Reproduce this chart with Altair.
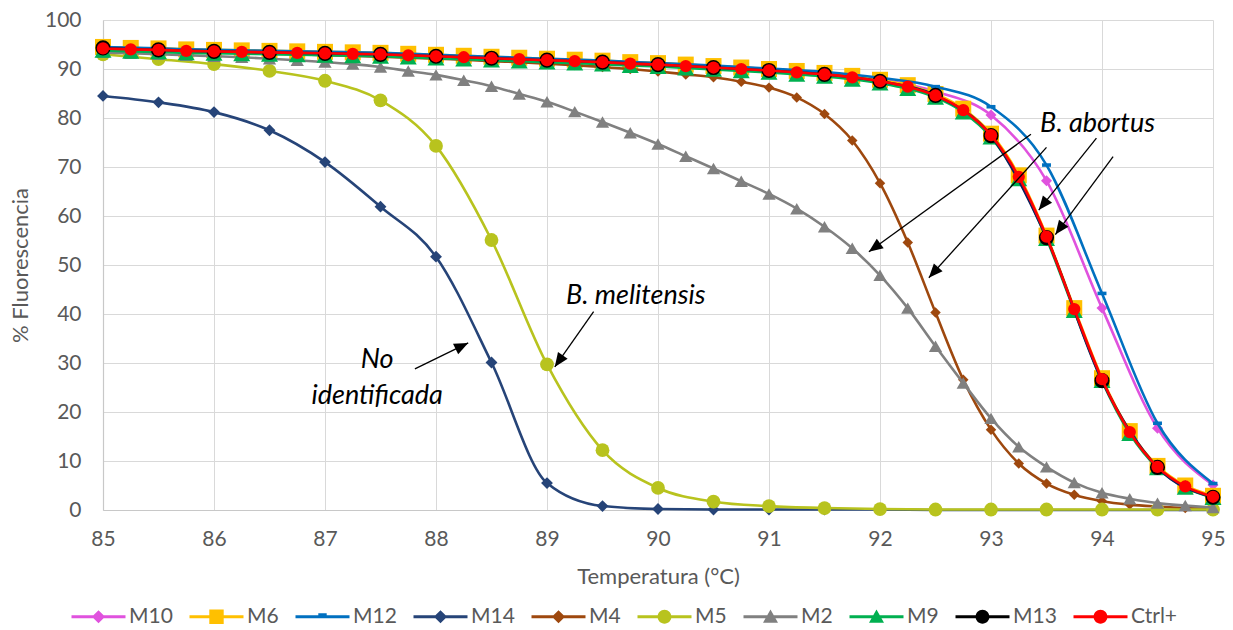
import math

import altair as alt
import pandas as pd

# Temperature grids (°C): some samples were read every 0.25 °C, others every 0.5 °C
T_QUARTER = [85.0, 85.25, 85.5, 85.75, 86.0, 86.25, 86.5, 86.75, 87.0, 87.25, 87.5,
             87.75, 88.0, 88.25, 88.5, 88.75, 89.0, 89.25, 89.5, 89.75, 90.0, 90.25,
             90.5, 90.75, 91.0, 91.25, 91.5, 91.75, 92.0, 92.25, 92.5, 92.75, 93.0,
             93.25, 93.5, 93.75, 94.0, 94.25, 94.5, 94.75, 95.0]
T_HALF = [85.0, 85.5, 86.0, 86.5, 87.0, 87.5, 88.0, 88.5, 89.0, 89.5, 90.0,
          90.5, 91.0, 91.5, 92.0, 92.5, 93.0, 93.5, 94.0, 94.5, 95.0]

# % fluorescence per sample
M10 = [94.4, 94.1, 93.8, 93.6, 93.4, 93.2, 92.8, 92.4, 92.0, 91.6, 91.1,
       90.6, 90.0, 89.2, 87.9, 85.4, 80.6, 67.2, 41.2, 16.7, 5.1]
M6 = [94.5, 94.3, 94.2, 94.0, 93.9, 93.8, 93.7, 93.6, 93.5, 93.4, 93.3,
      93.1, 92.9, 92.7, 92.5, 92.3, 92.1, 91.9, 91.7, 91.4, 91.2, 90.9,
      90.6, 90.3, 90.0, 89.6, 89.2, 88.6, 87.8, 86.7, 84.9, 81.9, 76.8,
      68.3, 56.0, 41.2, 26.9, 16.1, 9.0, 5.0, 2.9]
M12 = [94.5, 94.2, 93.9, 93.7, 93.5, 93.3, 92.9, 92.5, 92.1, 91.7, 91.2,
       90.7, 90.1, 89.4, 88.2, 86.4, 82.3, 70.4, 44.2, 17.7, 5.4]
M14 = [84.5, 83.2, 81.2, 77.5, 71.0, 61.9, 51.7, 30.1, 5.5, 0.8, 0.2,
       0.1, 0.1, 0.1, 0.1, 0.0, 0.0, 0.0, 0.0, 0.0, 0.0]
M4 = [94.0, 93.8, 93.7, 93.5, 93.4, 93.3, 93.1, 93.0, 92.8, 92.7, 92.5,
      92.3, 92.1, 91.9, 91.6, 91.4, 91.1, 90.8, 90.4, 90.0, 89.5, 88.9,
      88.3, 87.4, 86.2, 84.2, 80.8, 75.4, 66.7, 54.6, 40.3, 26.6, 16.4,
      9.5, 5.4, 3.1, 1.8, 1.1, 0.7, 0.4, 0.3]
M5 = [93.0, 92.0, 91.0, 89.6, 87.6, 83.6, 74.3, 55.1, 29.7, 12.2, 4.5,
      1.7, 0.8, 0.4, 0.2, 0.1, 0.1, 0.1, 0.1, 0.1, 0.1]
M2 = [93.4, 93.2, 93.0, 92.8, 92.6, 92.4, 92.1, 91.8, 91.4, 91.0, 90.4,
      89.6, 88.8, 87.7, 86.5, 84.9, 83.3, 81.3, 79.2, 77.0, 74.7, 72.2,
      69.7, 67.1, 64.5, 61.5, 57.8, 53.4, 47.9, 41.2, 33.4, 25.9, 18.7,
      12.9, 8.8, 5.6, 3.5, 2.3, 1.4, 0.9, 0.5]
M9 = [93.8, 93.6, 93.5, 93.3, 93.2, 93.1, 93.0, 92.9, 92.8, 92.7, 92.6,
      92.4, 92.2, 92.0, 91.8, 91.6, 91.4, 91.2, 91.0, 90.7, 90.5, 90.2,
      89.9, 89.6, 89.3, 88.9, 88.5, 87.9, 87.1, 86.0, 84.2, 81.2, 76.1,
      67.6, 55.4, 40.7, 26.4, 15.6, 8.6, 4.6, 2.5]
M13 = [94.3, 93.9, 93.6, 93.4, 93.2, 93.0, 92.6, 92.2, 91.8, 91.4, 90.9,
       90.3, 89.7, 88.9, 87.5, 84.6, 76.4, 55.6, 26.4, 8.7, 2.6]
CTRL = [94.2, 94.0, 93.9, 93.7, 93.6, 93.5, 93.4, 93.3, 93.2, 93.1, 93.0,
        92.8, 92.6, 92.4, 92.2, 92.0, 91.8, 91.6, 91.4, 91.1, 90.9, 90.6,
        90.3, 90.0, 89.7, 89.3, 88.9, 88.3, 87.5, 86.4, 84.6, 81.6, 76.5,
        68.0, 55.8, 41.0, 26.7, 15.9, 8.8, 4.8, 2.7]

SERIES = ["M10", "M6", "M12", "M14", "M4", "M5", "M2", "M9", "M13", "Ctrl+"]
SERIES_DATA = [(T_HALF, M10), (T_QUARTER, M6), (T_HALF, M12), (T_HALF, M14),
               (T_QUARTER, M4), (T_HALF, M5), (T_QUARTER, M2), (T_QUARTER, M9),
               (T_HALF, M13), (T_QUARTER, CTRL)]

# Styling per series (same order as SERIES)
LINE_COLORS = ["#E052DE", "#FFC000", "#0070C0", "#264478", "#9E480E",
               "#B8C31E", "#808080", "#00B050", "#0B2060", "#FF0000"]
MARKER_COLORS = ["#E052DE", "#FFC000", "#0070C0", "#264478", "#9E480E",
                 "#B8C31E", "#808080", "#00B050", "#000000", "#FF0000"]
DASH = "M-1,-0.4L1,-0.4L1,0.4L-1,0.4Z"
MARKER_SHAPES = ["diamond", "square", DASH, "diamond", "diamond",
                 "circle", "triangle-up", "triangle-up", "circle", "circle"]
MARKER_SIZES = [120, 256, 80, 140, 110, 190, 175, 290, 230, 150]

# Legend glyphs: a line segment with the sample's marker on top
SEG = "M-4.5,-0.25L4.5,-0.25L4.5,0.25L-4.5,0.25Z"
GLYPH = {
    "diamond": "M-1.1,0L0,-1.1L1.1,0L0,1.1Z",
    "square": "M-1.2,-1.2L1.2,-1.2L1.2,1.2L-1.2,1.2Z",
    "dash": "M-0.7,-0.6L0.7,-0.6L0.7,0.25L-0.7,0.25Z",
    "circle": "M-1.15,0A1.15,1.15 0 1,1 1.15,0A1.15,1.15 0 1,1 -1.15,0Z",
    "triangle": "M0,-1.2L1.25,1L-1.25,1Z",
}
LEGEND_GLYPHS = ["diamond", "square", "dash", "diamond", "diamond",
                 "circle", "triangle", "triangle", "circle", "circle"]

# Annotations (text centre and arrows from start to tip, in data units)
NOTE_TEXT = ["B. abortus", "B. melitensis", "No", "identificada"]
NOTE_T = [93.96, 89.80, 87.47, 87.47]
NOTE_P = [78.8, 43.7, 30.6, 23.3]
ARROW_T0 = [93.36, 93.50, 93.95, 94.10, 89.42, 87.81]
ARROW_P0 = [76.7, 74.0, 75.9, 72.1, 40.5, 28.8]
ARROW_T1 = [91.90, 92.44, 93.43, 93.58, 89.07, 88.29]
ARROW_P1 = [52.7, 47.4, 61.2, 56.2, 29.2, 34.1]

W, H = 1110, 490
FONT = "Lato"
GREY_TEXT = "#595959"

rows = []
for name, (temps, vals) in zip(SERIES, SERIES_DATA):
    for t, v in zip(temps, vals):
        rows.append({"series": name, "temp": t, "pct": v})
df = pd.DataFrame(rows)

# Arrow-head rotation in screen space
px_t, px_p = W / 10.0, H / 100.0
angles = [math.degrees(math.atan2((t1 - t0) * px_t, (p1 - p0) * px_p)) % 360
          for t0, p0, t1, p1 in zip(ARROW_T0, ARROW_P0, ARROW_T1, ARROW_P1)]
arrows = pd.DataFrame({"t0": ARROW_T0, "p0": ARROW_P0, "t1": ARROW_T1,
                       "p1": ARROW_P1, "angle": angles})
notes = pd.DataFrame({"text": NOTE_TEXT, "t": NOTE_T, "p": NOTE_P})

x_scale = alt.Scale(domain=[85, 95], nice=False, zero=False)
y_scale = alt.Scale(domain=[0, 100], nice=False)
x_axis = alt.Axis(values=list(range(85, 96)), format="d", title="Temperatura (°C)",
                  grid=True, ticks=False, labelFlush=False, labelPadding=18,
                  titlePadding=17)
y_axis = alt.Axis(values=list(range(0, 101, 10)), format="d", title="% Fluorescencia",
                  grid=True, ticks=False, labelFlush=False, labelPadding=22,
                  titlePadding=12)
x_enc = alt.X("temp:Q", scale=x_scale, axis=x_axis)
y_enc = alt.Y("pct:Q", scale=y_scale, axis=y_axis)

glyph_expr = " : ".join(
    f"datum.value == '{s}' ? '{SEG}{GLYPH[g]}'" for s, g in zip(SERIES, LEGEND_GLYPHS)
) + f" : '{SEG}'"

legend = alt.Legend(
    orient="none", legendX=-32, legendY=586, direction="horizontal", title=None,
    labelFont=FONT, labelFontSize=21, labelColor=GREY_TEXT,
    symbolSize=144, symbolOffset=17, labelOffset=20, columnPadding=16,
    symbolStrokeWidth=0, padding=0, symbolType={"expr": glyph_expr},
)

fill_scale = alt.Scale(domain=SERIES, range=MARKER_COLORS)

base = alt.Chart(df)
layers = []
for name, lcol, shape, size in zip(SERIES, LINE_COLORS, MARKER_SHAPES, MARKER_SIZES):
    sub = base.transform_filter(alt.datum.series == name)
    layers.append(
        sub.mark_line(interpolate="monotone", strokeWidth=2.6, color=lcol).encode(
            x=x_enc, y=y_enc,
        )
    )
    layers.append(
        sub.mark_point(filled=True, opacity=1, strokeWidth=0, size=size,
                       shape=shape).encode(
            x=x_enc, y=y_enc,
            fill=alt.Fill("series:N", scale=fill_scale, legend=legend),
        )
    )

arrow_lines = alt.Chart(arrows).mark_rule(color="black", strokeWidth=1.3).encode(
    x=alt.X("t0:Q", scale=x_scale), y=alt.Y("p0:Q", scale=y_scale),
    x2="t1:Q", y2="p1:Q",
)
arrow_heads = alt.Chart(arrows).mark_point(
    shape="M0,0L-0.42,1L0.42,1Z", size=784, filled=True, opacity=1,
    color="black", strokeWidth=0,
).encode(
    x=alt.X("t1:Q", scale=x_scale), y=alt.Y("p1:Q", scale=y_scale),
    angle=alt.Angle("angle:Q", scale=None),
)
note_text = alt.Chart(notes).mark_text(
    font=FONT, fontSize=27, fontStyle="italic", color="black",
    align="center", baseline="middle",
).encode(
    x=alt.X("t:Q", scale=x_scale), y=alt.Y("p:Q", scale=y_scale), text="text:N",
)

chart = alt.layer(*layers, arrow_lines, arrow_heads, note_text).properties(
    width=W, height=H,
    autosize=alt.AutoSizeParams(type="none"),
    padding={"left": 103, "top": 20, "right": 20, "bottom": 120},
).configure(font=FONT).configure_axis(
    gridColor="#D9D9D9", gridWidth=1, domainColor="#C8C8C8", domainWidth=1.2,
    labelFont=FONT, labelFontSize=21, labelColor=GREY_TEXT,
    titleFont=FONT, titleFontSize=22, titleColor=GREY_TEXT, titleFontWeight="normal",
).configure_view(stroke="transparent")

chart.save("out.html", embed_options={"renderer": "svg", "actions": False})
